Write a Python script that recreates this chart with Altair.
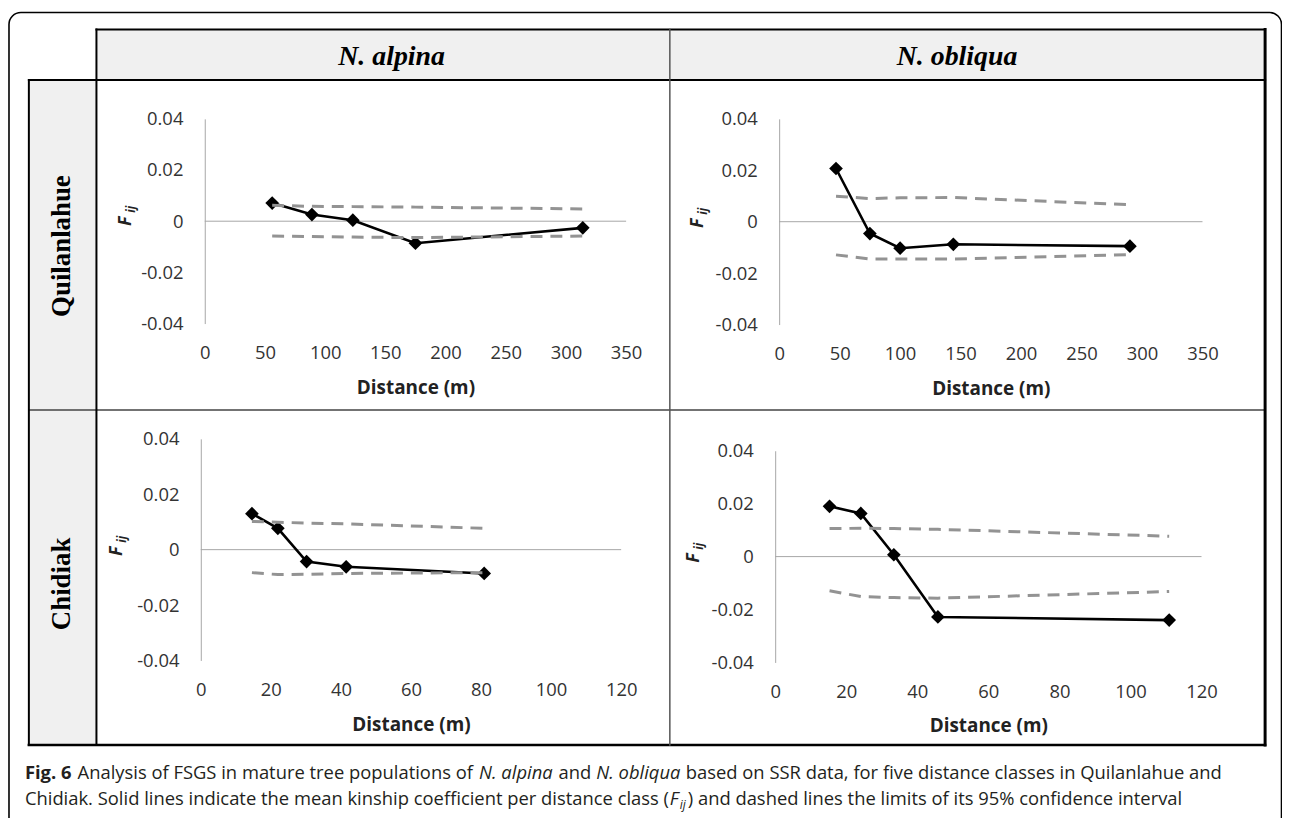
import altair as alt
import pandas as pd

# ---------------- data ----------------
col_titles = ["N. alpina", "N. obliqua"]
row_titles = ["Quilanlahue", "Chidiak"]

# N. alpina - Quilanlahue
aq_dist = [56, 89, 123, 175, 314]
aq_fij = [0.0071, 0.0026, 0.0004, -0.0086, -0.0026]
aq_up = [0.0062, 0.0058, 0.0057, 0.0055, 0.0048]
aq_lo = [-0.0058, -0.0060, -0.0062, -0.0064, -0.0058]

# N. obliqua - Quilanlahue
oq_dist = [47, 75, 100, 144, 290]
oq_fij = [0.0207, -0.0046, -0.0103, -0.0088, -0.0095]
oq_up = [0.0099, 0.0090, 0.0093, 0.0094, 0.0066]
oq_lo = [-0.0129, -0.0145, -0.0145, -0.0145, -0.0128]

# N. alpina - Chidiak
ac_dist = [14.6, 22.0, 30.2, 41.5, 80.9]
ac_fij = [0.0130, 0.0077, -0.0043, -0.0062, -0.0086]
ac_up = [0.0102, 0.0099, 0.0096, 0.0093, 0.0077]
ac_lo = [-0.0083, -0.0090, -0.0089, -0.0086, -0.0083]

# N. obliqua - Chidiak
oc_dist = [15.3, 24.1, 33.4, 45.8, 110.9]
oc_fij = [0.0190, 0.0163, 0.0007, -0.0228, -0.0240]
oc_up = [0.0106, 0.0107, 0.0106, 0.0103, 0.0077]
oc_lo = [-0.0129, -0.0151, -0.0155, -0.0157, -0.0132]

x_ticks_q = [0, 50, 100, 150, 200, 250, 300, 350]
x_ticks_c = [0, 20, 40, 60, 80, 100, 120]
y_ticks = [-0.04, -0.02, 0, 0.02, 0.04]

x_title = "Distance (m)"
cap1 = ["Fig. 6", "Analysis of FSGS in mature tree populations of", "N. alpina", "and",
        "N. obliqua", "based on SSR data, for five distance classes in Quilanlahue and"]
cap2 = ["Chidiak. Solid lines indicate the mean kinship coefficient per distance class (",
        "F", "ij", ") and dashed lines the limits of its 95% confidence interval"]

# ---------------- layout helpers ----------------
W, H = 1282, 810
M = 8  # page margin


def px(x):
    return x - M


def py(y):
    return y - M


one = pd.DataFrame({"k": [0]})


def hline(x1, x2, y, color="black", w=2.0):
    return alt.Chart(one).mark_rule(color=color, strokeWidth=w, strokeCap="square").encode(
        x=alt.value(px(x1)), x2=alt.value(px(x2)), y=alt.value(py(y)))


def vline(x, y1, y2, color="black", w=2.0):
    return alt.Chart(one).mark_rule(color=color, strokeWidth=w, strokeCap="square").encode(
        x=alt.value(px(x)), y=alt.value(py(y1)), y2=alt.value(py(y2)))


def box(x1, x2, y1, y2, **kw):
    return alt.Chart(one).mark_rect(**kw).encode(
        x=alt.value(px(x1)), x2=alt.value(px(x2)), y=alt.value(py(y1)), y2=alt.value(py(y2)))


def txt(x, y, s, **kw):
    return alt.Chart(one).mark_text(text=s, **kw).encode(x=alt.value(px(x)), y=alt.value(py(y)))


LABEL_EXPR = ("datum.value == 0 ? '0' : (datum.value < 0 ? '-' : '') + "
              "format(abs(datum.value), '.2f')")


def panel(dist, fij, up, lo, xticks, x0, x1, ytop, ybot, fx, fy):
    xmax = xticks[-1]
    df = pd.DataFrame({"d": dist, "f": fij, "u": up, "l": lo})
    xs = alt.Scale(domain=[0, xmax], range=[px(x0), px(x1)], nice=False, zero=False)
    ys = alt.Scale(domain=[-0.04, 0.04], range=[py(ybot), py(ytop)], nice=False, zero=False)
    xa = alt.Axis(orient="bottom", offset=py(ybot) - H, values=xticks, domain=False,
                  ticks=False, tickSize=0, grid=False, labelPadding=29,
                  labelBaseline="middle", labelFont="Open Sans", labelFontSize=18.5,
                  labelColor="#333333", labelFlush=False, labelOverlap=False,
                  title=x_title, titleFont="Open Sans", titleFontSize=19,
                  titleFontWeight="bold", titleColor="#222222", titleY=64,
                  titleBaseline="middle", zindex=2)
    ya = alt.Axis(orient="left", offset=-px(x0), values=y_ticks, domain=True,
                  domainColor="#a6a6a6", domainWidth=1, ticks=False, tickSize=0,
                  grid=False, labelPadding=22, labelFont="Open Sans", labelFontSize=18.5,
                  labelColor="#333333", labelFlush=False, labelOverlap=False,
                  labelExpr=LABEL_EXPR, title=None, zindex=1)

    def X(f):
        return alt.X(f + ":Q", scale=xs, axis=xa)

    def Y(f):
        return alt.Y(f + ":Q", scale=ys, axis=ya)

    zero = alt.Chart(pd.DataFrame({"a": [0], "b": [xmax], "z": [0]})).mark_rule(
        color="#a6a6a6", strokeWidth=1).encode(x=X("a"), x2="b:Q", y=Y("z"))
    base = alt.Chart(df)
    solid = base.mark_line(color="black", strokeWidth=2.6).encode(x=X("d"), y=Y("f"))
    pts = base.mark_point(shape="diamond", filled=True, size=190, color="black",
                          opacity=1).encode(x=X("d"), y=Y("f"))
    dash = base.transform_fold(["u", "l"], as_=["k", "v"]).mark_line(
        color="#939393", strokeWidth=3, strokeDash=[12, 8]).encode(
        x=X("d"), y=Y("v"), detail="k:N")
    lab_F = txt(fx, fy + 4, "F", font="Open Sans", fontSize=18, fontWeight="bold",
                fontStyle="italic", angle=270, align="center", baseline="middle",
                color="#222222")
    lab_ij = txt(fx + 5, fy - 8, "ij", font="Open Sans", fontSize=12, fontWeight="bold",
                 fontStyle="italic", angle=270, align="center", baseline="middle",
                 color="#222222")
    return alt.layer(zero, solid, pts, dash), lab_F, lab_ij


# ---------------- frame ----------------
frame = [
    box(9, 1289.5, 10, 840, fillOpacity=0, stroke="black", strokeWidth=1.6, cornerRadius=12),
    box(97, 1273, 27, 78, fill="#f0f0f0"),
    box(29, 97, 78, 747, fill="#f0f0f0"),
    hline(97, 1273, 27, w=2),
    hline(29, 1273, 78, w=2),
    hline(29, 1273, 410, color="#444444", w=1.5),
    hline(29, 1273, 747, w=2.5),
    vline(29, 78, 747, w=2),
    vline(97, 27, 747, w=2),
    vline(674, 27, 747, color="#555555", w=1.5),
    vline(1273, 27, 747, w=3),
]

heads = [
    txt(394, 55, col_titles[0], font="Liberation Serif", fontSize=28, fontWeight="bold",
        fontStyle="italic", align="center", baseline="middle", color="black"),
    txt(963, 55, col_titles[1], font="Liberation Serif", fontSize=28, fontWeight="bold",
        fontStyle="italic", align="center", baseline="middle", color="black"),
    txt(62, 245, row_titles[0], font="Liberation Serif", fontSize=27, fontWeight="bold",
        angle=270, align="center", baseline="middle", color="black"),
    txt(62, 585, row_titles[1], font="Liberation Serif", fontSize=27, fontWeight="bold",
        angle=270, align="center", baseline="middle", color="black"),
]

p1, f1a, f1b = panel(aq_dist, aq_fij, aq_up, aq_lo, x_ticks_q, 206, 630, 117, 323, 127, 216)
p2, f2a, f2b = panel(oq_dist, oq_fij, oq_up, oq_lo, x_ticks_q, 784, 1210, 117, 324, 702, 218)
p3, f3a, f3b = panel(ac_dist, ac_fij, ac_up, ac_lo, x_ticks_c, 202, 625, 439, 662, 118, 548)
p4, f4a, f4b = panel(oc_dist, oc_fij, oc_up, oc_lo, x_ticks_c, 780, 1209, 451, 664, 698, 555)

# ---------------- caption ----------------
CAP = dict(font="Open Sans", fontSize=18.5, align="left", baseline="alphabetic", color="#231f20")
b1, b2 = 781, 807
caption = [
    txt(25, b1, cap1[0], fontWeight="bold", **CAP),
    txt(78, b1, cap1[1], **CAP),
    txt(482, b1, cap1[2], fontStyle="italic", **CAP),
    txt(562, b1, cap1[3], **CAP),
    txt(600, b1, cap1[4], fontStyle="italic", **CAP),
    txt(690, b1, cap1[5], **CAP),
    txt(25, b2, cap2[0], **CAP),
    txt(674, b2, cap2[1], fontStyle="italic", **CAP),
    txt(684, b2 + 4, cap2[2], font="Open Sans", fontSize=12, fontStyle="italic",
        align="left", baseline="alphabetic", color="#231f20"),
    txt(692, b2, cap2[3], **CAP),
]

chart = alt.layer(
    *frame, *heads, p1, p2, p3, p4,
    f1a, f1b, f2a, f2b, f3a, f3b, f4a, f4b, *caption
).resolve_scale(x="independent", y="independent").properties(
    width=W, height=H, padding=0, autosize=alt.AutoSizeParams(type="none"),
    background="white"
).configure_view(stroke=None)

chart.save("out.html", embed_options={"renderer": "svg", "actions": False})
